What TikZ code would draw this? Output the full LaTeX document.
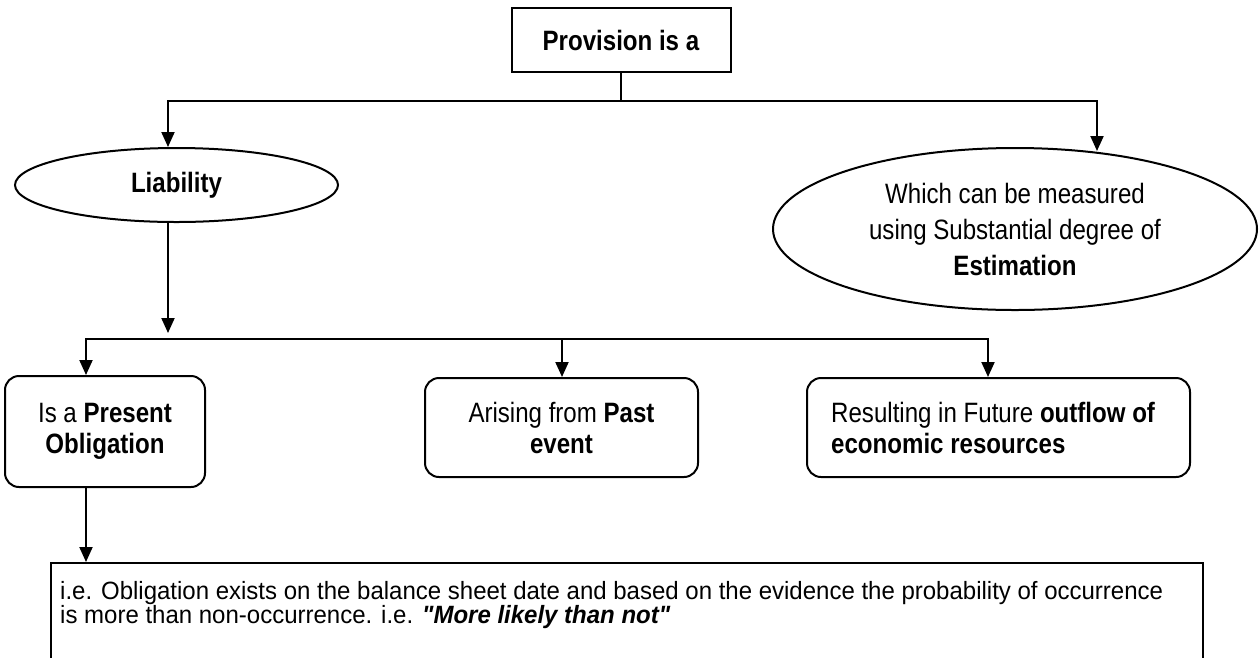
\documentclass[tikz,border=0pt]{standalone}
\usepackage{fontspec}
\setmainfont{Liberation Sans}[FakeStretch=0.86]
\newfontfamily\bodyfont{Liberation Sans}[FakeStretch=0.96]
\usetikzlibrary{arrows.meta,shapes.geometric,calc}
\begin{document}
\begin{tikzpicture}[x=1pt,y=-1pt,
  lw/.style={line width=2pt,line cap=rect},
  arr/.style={lw,-{Triangle[length=15pt,width=13pt]}},
  lbl/.style={font=\fontsize{28}{31}\selectfont},
  estlbl/.style={font=\fontsize{28}{36}\selectfont},
  body/.style={font=\bodyfont\fontsize{25}{24.5}\selectfont},
  sqbox/.style={draw,line width=2pt,rectangle,inner sep=0pt},
  rbox/.style={draw,line width=2pt,rectangle,rounded corners=14pt,inner sep=0pt},
  oval/.style={draw,line width=2pt,ellipse,inner sep=0pt}]
\useasboundingbox (0,0) rectangle (1260,657);
\clip (0,0) rectangle (1260,657);
\fill[white] (0,0) rectangle (1260,657);
\node[sqbox,lbl,minimum width=219pt,minimum height=64pt] (top) at (621,40) {\textbf{Provision is a}};
\node[oval,lbl,minimum width=323pt,minimum height=74pt] (liab) at (176.5,185) {\textbf{Liability}};
\node[oval,estlbl,align=center,minimum width=484pt,minimum height=162pt] (est) at (1015,229) {Which can be measured\\using Substantial degree of\\\textbf{Estimation}};
\node[rbox,lbl,align=center,minimum width=200pt,minimum height=111pt] (b1) at (105,431.5) {Is a \textbf{Present}\\\textbf{Obligation}};
\node[rbox,lbl,align=center,minimum width=273pt,minimum height=99pt] (b2) at (561.5,427.5) {Arising from \textbf{Past}\\\textbf{event}};
\node[rbox,minimum width=383pt,minimum height=99pt] (b3) at (998.5,427.5) {};
\node[lbl,align=left,anchor=west,inner sep=0pt] (b3t) at ([xshift=25pt]b3.west) {Resulting in Future \textbf{outflow of}\\\textbf{economic resources}};
\node[sqbox,anchor=north west,minimum width=1152pt,minimum height=140pt] (note) at (50,562) {};
\node[body,anchor=north west,align=left,inner sep=0pt] (notetext) at (60,581) {i.e. Obligation exists on the balance sheet date and based on the evidence the probability of occurrence\\is more than non-occurrence. i.e. \textbf{\textit{"More likely than not"}}};
\coordinate (tj) at (621,101);
\coordinate (jL) at (168,101);
\coordinate (jR) at (1097,101);
\draw[lw] (top.south) -- (tj);
\draw[lw] (jL) -- (jR);
\draw[arr] (jL) -- (jL |- liab.north);
\draw[arr] (jR) -- ($(jR |- est.north)+(0,4)$);
\coordinate (lt) at (168,333);
\draw[arr] (liab.south -| lt) -- (lt);
\coordinate (h1) at (86,339);
\coordinate (h2) at (562,339);
\coordinate (h3) at (988,339);
\draw[lw] (h1) -- (h3);
\draw[arr] (h1) -- (h1 |- b1.north);
\draw[arr] (h2) -- (h2 |- b2.north);
\draw[arr] (h3) -- (h3 |- b3.north);
\draw[arr] (b1.south -| h1) -- (h1 |- note.north);
\end{tikzpicture}
\end{document}
